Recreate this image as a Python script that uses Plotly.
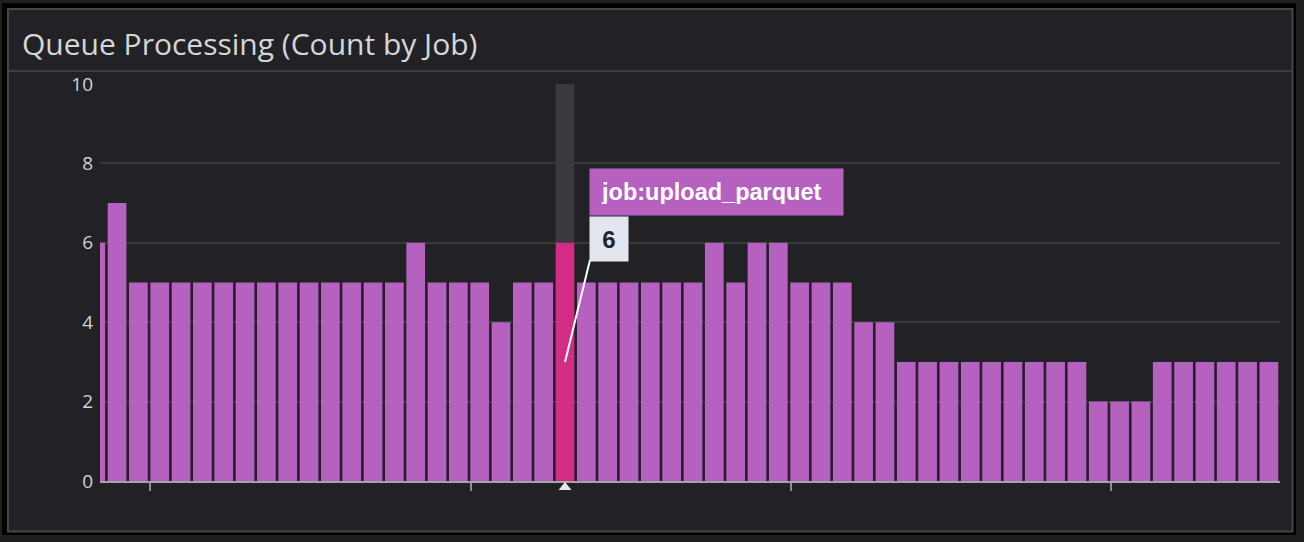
import plotly.graph_objects as go

# ---- data ----
bucket_index = list(range(56))
job_counts = [6, 7, 5, 5, 5, 5, 5, 5, 5, 5, 5, 5, 5, 5, 5, 6, 5, 5, 5, 4,
              5, 5, 6, 5, 5, 5, 5, 5, 5, 6, 5, 6, 6, 5, 5, 5, 4, 4, 3, 3,
              3, 3, 3, 3, 3, 3, 3, 2, 2, 2, 3, 3, 3, 3, 3, 3]
highlight_index = 22
highlight_label = "job:upload_parquet"
y_tick_values = [0, 2, 4, 6, 8, 10]
x_tick_positions = [2.55, 17.57, 32.6, 47.62]

# ---- styling ----
W, H = 1304, 542
ML, MR, MT, MB = 100, 24, 84, 61
PANEL = "#222226"
BAR = "#b661bf"
BAR_HI = "#d22c84"
BAND = "#3a393f"
GRID = "#38383d"
TXT = "#d2d2d2"

pw = W - ML - MR
ph = H - MT - MB


def px_x(p):
    return (p - ML) / pw


def px_y(p):
    return (H - MB - p) / ph


colors = [BAR_HI if i == highlight_index else BAR for i in bucket_index]
hv = job_counts[highlight_index]

fig = go.Figure()
fig.add_trace(go.Bar(x=bucket_index, y=job_counts, marker=dict(color=colors, line=dict(width=0)),
                     hoverinfo="skip", showlegend=False))

shapes = [
    # outer black frame
    dict(type="rect", xref="paper", yref="paper", x0=px_x(2), x1=px_x(1296), y0=px_y(535), y1=px_y(3),
         fillcolor="#000000", line=dict(width=0), layer="below"),
    # panel
    dict(type="rect", xref="paper", yref="paper", x0=px_x(8), x1=px_x(1292.5), y0=px_y(531.5), y1=px_y(9),
         fillcolor=PANEL, line=dict(color="#46464b", width=2), layer="below"),
    # title separator
    dict(type="line", xref="paper", yref="paper", x0=px_x(9), x1=px_x(1292), y0=px_y(71), y1=px_y(71),
         line=dict(color="#3d3d42", width=2), layer="below"),
    # hover band above highlighted bar
    dict(type="rect", xref="x", yref="y", x0=highlight_index - 0.4385, x1=highlight_index + 0.4385,
         y0=hv, y1=10, fillcolor=BAND, line=dict(width=0), layer="between"),
    # tooltip leader line
    dict(type="line", xref="x", yref="y", xsizemode="pixel", ysizemode="pixel",
         xanchor=highlight_index, yanchor=hv / 2, x0=0, x1=25, y0=0, y1=102,
         line=dict(color="#ffffff", width=2), layer="above"),
    # hover marker triangle under the axis
    dict(type="path", xref="x", yref="paper", xsizemode="pixel", xanchor=highlight_index,
         path="M -6.5,%f L 6.5,%f L 0,%f Z" % (px_y(490), px_y(490), px_y(482)),
         fillcolor="#e8e8e8", line=dict(width=0), layer="above"),
]

annotations = [
    dict(xref="paper", yref="paper", x=px_x(20), y=px_y(43), xanchor="left", yanchor="middle",
         text="Queue Processing (Count by Job)", showarrow=False,
         font=dict(family="Open Sans", size=30, color="#d6d6d6")),
    dict(xref="x", yref="y", x=highlight_index, y=hv, xanchor="left", yanchor="bottom",
         xshift=24, yshift=26.5, text="<b>%s</b>" % highlight_label, showarrow=False,
         align="left", width=231, height=24, borderpad=11, bgcolor=BAR,
         font=dict(family="Liberation Sans", size=23.5, color="#ffffff")),
    dict(xref="x", yref="y", x=highlight_index, y=hv, xanchor="left", yanchor="top",
         xshift=24, yshift=26.5, text="<b>%d</b>" % hv, showarrow=False,
         align="center", width=16, height=22, borderpad=11, bgcolor="#e3e6ee",
         font=dict(family="Liberation Sans", size=24, color="#1c2733")),
]

fig.update_layout(
    width=W, height=H, autosize=False,
    margin=dict(l=ML, r=MR, t=MT, b=MB, pad=0),
    paper_bgcolor="#1f1f22", plot_bgcolor=PANEL,
    bargap=0.123,
    shapes=shapes, annotations=annotations,
    xaxis=dict(range=[0.2, 55.52], showgrid=False, zeroline=False,
               showline=True, linecolor="#a5a5a5", linewidth=2,
               tickmode="array", tickvals=x_tick_positions, showticklabels=False,
               ticks="outside", ticklen=8, tickwidth=1.5, tickcolor="#8c8c8c"),
    yaxis=dict(range=[0, 10], tickmode="array", tickvals=y_tick_values,
               showgrid=True, gridcolor=GRID, gridwidth=1.5, zeroline=False, showline=False,
               ticks="", ticklabelstandoff=6,
               tickfont=dict(family="Open Sans", size=19, color=TXT)),
    font=dict(family="Open Sans", color=TXT),
)

fig.write_html("out.html", config={"displayModeBar": False},
               post_script="document.body.style.margin='0';document.body.style.background='#1f1f22';")
